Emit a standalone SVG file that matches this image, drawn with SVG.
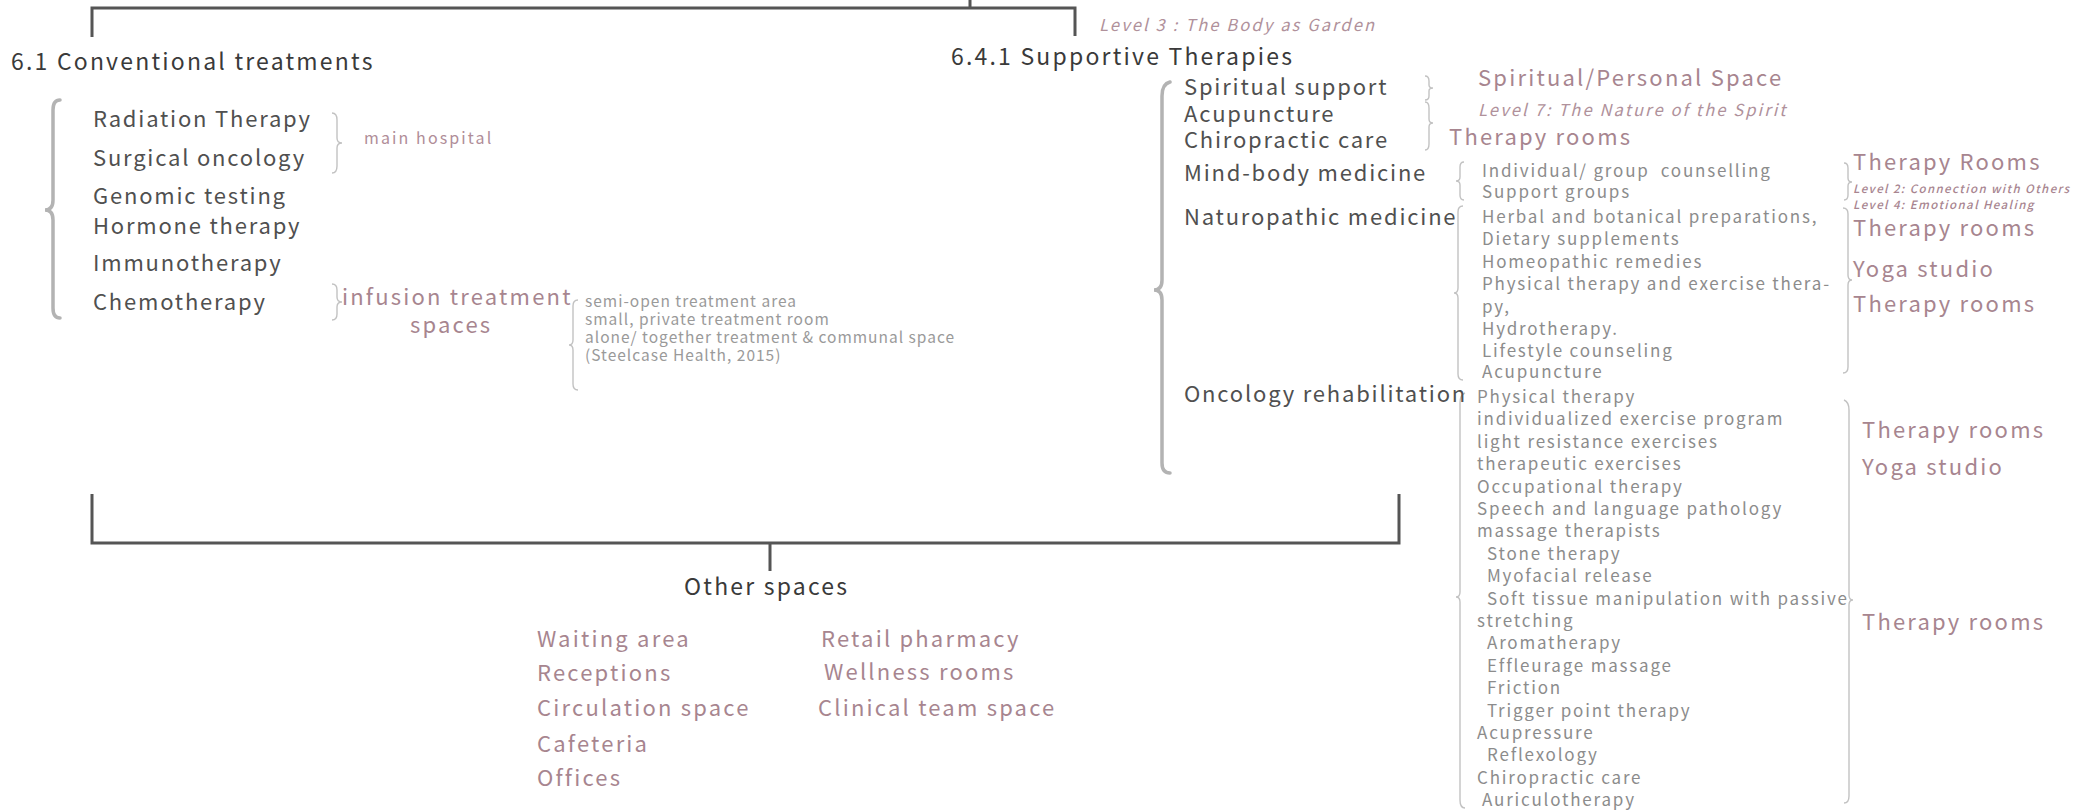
<svg xmlns="http://www.w3.org/2000/svg" width="2088" height="811" viewBox="0 0 2088 811">
<style>
text{font-family:"Noto Sans CJK JP","Noto Sans",sans-serif}
.h{font-size:23px;fill:#3a3a3a;letter-spacing:2.2px}
.it{font-size:22px;fill:#505050;letter-spacing:1.8px}
.pk{font-size:22px;fill:#a7858f;letter-spacing:2.2px}
.sm{font-size:17px;fill:#8c8c8c;letter-spacing:1.8px}
.smp{font-size:16px;fill:#b08d98;letter-spacing:2.1px}
.tiny{font-size:15.5px;fill:#9a9a9a;letter-spacing:1px}
.lv{font-size:16.5px;font-style:italic;fill:#b0919b;letter-spacing:2.1px}
.lvs{font-size:11.5px;font-style:italic;font-weight:500;fill:#a88590;letter-spacing:1.4px}
.ln{stroke:#555;stroke-width:3;fill:none}
.br{stroke:#b3b3b3;stroke-width:3.5;fill:none;stroke-linecap:round}
.bt{stroke:#c2c2c2;stroke-width:1.4;fill:none}
</style>
<g id="connectors">
<path class="ln" d="M92 37 V8 H1075 V36 M970 0 V8"/>
<path class="ln" d="M92 494 V543 H1399 V494 M770 543 V571"/>
<path class="br" d="M60 100 Q53 100 53 110 L53 200 Q53 210 45 210 Q53 210 53 220 L53 308 Q53 318 60 318"/>
<path class="br" d="M1170 82 Q1162 84 1162 96 L1162 280 Q1162 290 1154 290 Q1162 290 1162 300 L1162 463 Q1162 473 1170 473"/>
<path class="bt" d="M332 113 Q337 113 337 120 L337 138 Q337 143 342 143 Q337 143 337 148 L337 166 Q337 173 332 173"/>
<path class="bt" d="M332 284 Q337 284 337 290 L337 297 Q337 302 342 302 Q337 302 337 307 L337 314 Q337 320 332 320"/>
<path class="bt" d="M578 300 Q573 300 573 306 L573 340 Q573 345 569 345 Q573 345 573 350 L573 384 Q573 390 578 390"/>
<path class="bt" d="M1425 76 Q1429 76 1429 81 L1429 85 Q1429 88 1433 88 Q1429 88 1429 91 L1429 96 Q1429 100 1425 100"/>
<path class="bt" d="M1425 102 Q1429 102 1429 108 L1429 119 Q1429 123 1433 123 Q1429 123 1429 127 L1429 144 Q1429 150 1425 150"/>
<path class="bt" d="M1464 162 Q1460 162 1460 167 L1460 177 Q1460 181 1456 181 Q1460 181 1460 185 L1460 195 Q1460 200 1464 200"/>
<path class="bt" d="M1463 206 Q1458 206 1458 212 L1458 288 Q1458 293 1454 293 Q1458 293 1458 298 L1458 374 Q1458 380 1463 380"/>
<path class="bt" d="M1844 163 Q1848 163 1848 168 L1848 178 Q1848 182 1852 182 Q1848 182 1848 186 L1848 195 Q1848 200 1844 200"/>
<path class="bt" d="M1843 208 Q1848 208 1848 214 L1848 275 Q1848 280 1852 280 Q1848 280 1848 285 L1848 367 Q1848 373 1843 373"/>
<path class="bt" d="M1465 393 Q1460 395 1460 403 L1460 592 Q1460 597 1456 597 Q1460 597 1460 602 L1460 800 Q1460 808 1465 808"/>
<path class="bt" d="M1844 400 Q1849 402 1849 410 L1849 595 Q1849 600 1853 600 Q1849 600 1849 605 L1849 796 Q1849 803 1844 803"/>
</g>
<g id="top-labels">
<text class="lv" x="1099" y="31">Level 3 : The Body as Garden</text>
</g>
<g id="conventional">
<text class="h" x="11" y="70">6.1 Conventional treatments</text>
<text class="it" x="93" y="127">Radiation Therapy</text>
<text class="it" x="93" y="166">Surgical oncology</text>
<text class="it" x="93" y="204">Genomic testing</text>
<text class="it" x="93" y="234">Hormone therapy</text>
<text class="it" x="93" y="271">Immunotherapy</text>
<text class="it" x="93" y="310">Chemotherapy</text>
<text class="smp" x="364" y="144">main hospital</text>
<text class="pk" x="342" y="305">infusion treatment</text>
<text class="pk" x="410" y="333">spaces</text>
<text class="tiny" x="585" y="307">semi-open treatment area</text>
<text class="tiny" x="585" y="325">small, private treatment room</text>
<text class="tiny" x="585" y="343">alone/ together treatment &amp; communal space</text>
<text class="tiny" x="585" y="361">(Steelcase Health, 2015)</text>
</g>
<g id="supportive">
<text class="h" x="951" y="65">6.4.1 Supportive Therapies</text>
<text class="it" x="1184" y="95">Spiritual support</text>
<text class="it" x="1184" y="122">Acupuncture</text>
<text class="it" x="1184" y="148">Chiropractic care</text>
<text class="it" x="1184" y="181">Mind-body medicine</text>
<text class="it" x="1184" y="225">Naturopathic medicine</text>
<text class="it" x="1184" y="402">Oncology rehabilitation</text>
<text class="pk" x="1478" y="86">Spiritual/Personal Space</text>
<text class="lv" x="1478" y="116">Level 7: The Nature of the Spirit</text>
<text class="pk" x="1449" y="145">Therapy rooms</text>
</g>
<g id="naturopathic">
<text class="sm" x="1482" y="177" xml:space="preserve">Individual/ group  counselling</text>
<text class="sm" x="1482" y="198">Support groups</text>
<text class="sm" x="1482" y="223">Herbal and botanical preparations,</text>
<text class="sm" x="1482" y="245">Dietary supplements</text>
<text class="sm" x="1482" y="268">Homeopathic remedies</text>
<text class="sm" x="1482" y="290">Physical therapy and exercise thera-</text>
<text class="sm" x="1482" y="313">py,</text>
<text class="sm" x="1482" y="335">Hydrotherapy.</text>
<text class="sm" x="1482" y="357">Lifestyle counseling</text>
<text class="sm" x="1482" y="378">Acupuncture</text>
<text class="pk" x="1853" y="170">Therapy Rooms</text>
<text class="lvs" x="1853" y="193">Level 2: Connection with Others</text>
<text class="lvs" x="1853" y="209">Level 4: Emotional Healing</text>
<text class="pk" x="1853" y="236">Therapy rooms</text>
<text class="pk" x="1853" y="277">Yoga studio</text>
<text class="pk" x="1853" y="312">Therapy rooms</text>
</g>
<g id="rehabilitation">
<text class="sm" x="1477" y="403">Physical therapy</text>
<text class="sm" x="1477" y="425">individualized exercise program</text>
<text class="sm" x="1477" y="448">light resistance exercises</text>
<text class="sm" x="1477" y="470">therapeutic exercises</text>
<text class="sm" x="1477" y="493">Occupational therapy</text>
<text class="sm" x="1477" y="515">Speech and language pathology</text>
<text class="sm" x="1477" y="537">massage therapists</text>
<text class="sm" x="1487" y="560">Stone therapy</text>
<text class="sm" x="1487" y="582">Myofacial release</text>
<text class="sm" x="1487" y="605">Soft tissue manipulation with passive</text>
<text class="sm" x="1477" y="627">stretching</text>
<text class="sm" x="1487" y="649">Aromatherapy</text>
<text class="sm" x="1487" y="672">Effleurage massage</text>
<text class="sm" x="1487" y="694">Friction</text>
<text class="sm" x="1487" y="717">Trigger point therapy</text>
<text class="sm" x="1477" y="739">Acupressure</text>
<text class="sm" x="1487" y="761">Reflexology</text>
<text class="sm" x="1477" y="784">Chiropractic care</text>
<text class="sm" x="1482" y="806">Auriculotherapy</text>
<text class="pk" x="1862" y="438">Therapy rooms</text>
<text class="pk" x="1862" y="475">Yoga studio</text>
<text class="pk" x="1862" y="630">Therapy rooms</text>
</g>
<g id="other-spaces">
<text class="h" x="684" y="595">Other spaces</text>
<text class="pk" x="537" y="647">Waiting area</text>
<text class="pk" x="537" y="681">Receptions</text>
<text class="pk" x="537" y="716">Circulation space</text>
<text class="pk" x="537" y="752">Cafeteria</text>
<text class="pk" x="537" y="786">Offices</text>
<text class="pk" x="821" y="647">Retail pharmacy</text>
<text class="pk" x="824" y="680">Wellness rooms</text>
<text class="pk" x="818" y="716">Clinical team space</text>
</g>
</svg>
